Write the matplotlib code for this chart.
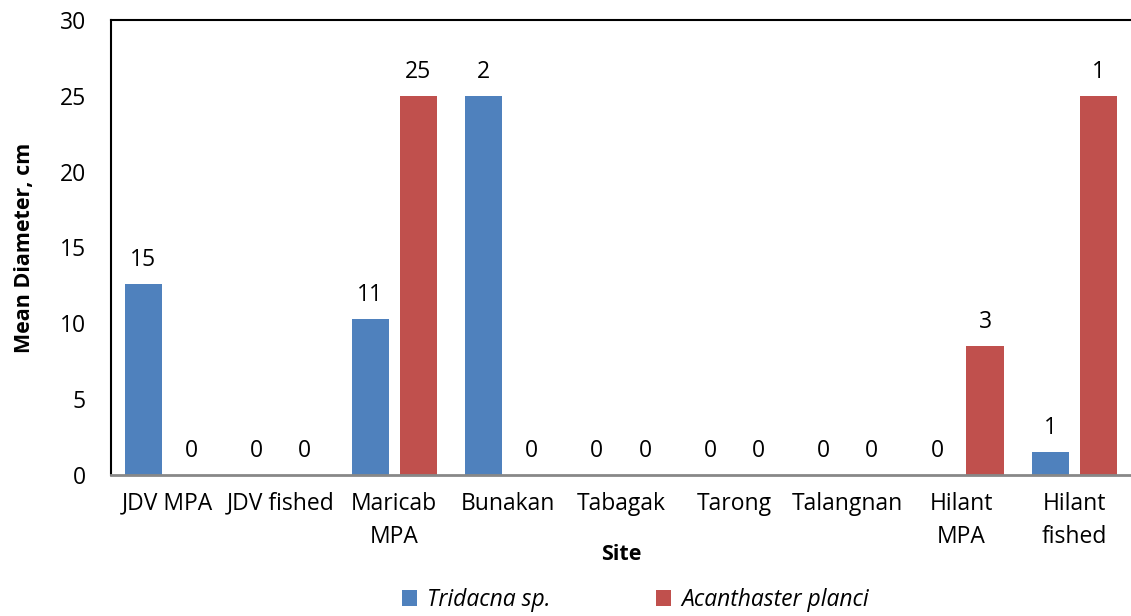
import matplotlib.pyplot as plt
import numpy as np

plt.rcParams['font.family'] = ['Open Sans', 'DejaVu Sans']

sites = ['JDV MPA', 'JDV fished', 'Maricab\nMPA', 'Bunakan', 'Tabagak',
         'Tarong', 'Talangnan', 'Hilant\nMPA', 'Hilant\nfished']
tridacna = [12.6, 0, 10.3, 25, 0, 0, 0, 0, 1.5]
acanthaster = [0, 0, 25, 0, 0, 0, 0, 8.5, 25]
tridacna_n = [15, 0, 11, 2, 0, 0, 0, 0, 1]
acanthaster_n = [0, 0, 25, 0, 0, 0, 0, 3, 1]

fs = 16.5

fig = plt.figure(figsize=(11.31, 6.16), dpi=100)
ax = fig.add_axes([0.098, 0.229, 0.902, 0.7385])

x = np.arange(len(sites))
w = 0.327
b1 = ax.bar(x - 0.212, tridacna, w, color='#4f81bd', label='Tridacna sp.')
b2 = ax.bar(x + 0.212, acanthaster, w, color='#c0504d', label='Acanthaster planci')

# counts written above the bars
for bars, counts in [(b1, tridacna_n), (b2, acanthaster_n)]:
    for rect, n in zip(bars, counts):
        ax.annotate(str(n), (rect.get_x() + rect.get_width() / 2, rect.get_height()),
                    xytext=(0, 8.5), textcoords='offset points',
                    ha='center', va='bottom', fontsize=fs)

ax.set_xlim(-0.5, len(sites) - 0.5)
ax.set_ylim(0, 30)
ax.set_yticks(range(0, 31, 5))
ax.set_xticks(x)
ax.set_xticklabels(sites, fontsize=fs, linespacing=1.5)
ax.tick_params(axis='y', labelsize=fs, length=0, pad=18)
ax.tick_params(axis='x', length=0, pad=12)

ax.spines['right'].set_visible(False)
ax.spines['left'].set_linewidth(1.5)
ax.spines['top'].set_linewidth(1.5)
ax.spines['bottom'].set_color('#888888')
ax.spines['bottom'].set_linewidth(2)

ax.set_ylabel('Mean Diameter, cm', fontsize=15.5, fontweight='bold', labelpad=18)
ax.set_xlabel('Site', fontsize=15.5, fontweight='bold', labelpad=-3)

leg = fig.legend(handles=[b1, b2], loc='center', bbox_to_anchor=(0.562, 0.026),
                 ncol=2, frameon=False, fontsize=fs, handlelength=0.65,
                 handleheight=0.65, columnspacing=4.6, handletextpad=0.45,
                 borderpad=0)
for t in leg.get_texts():
    t.set_fontstyle('italic')

fig.savefig('out.png', dpi=100)
